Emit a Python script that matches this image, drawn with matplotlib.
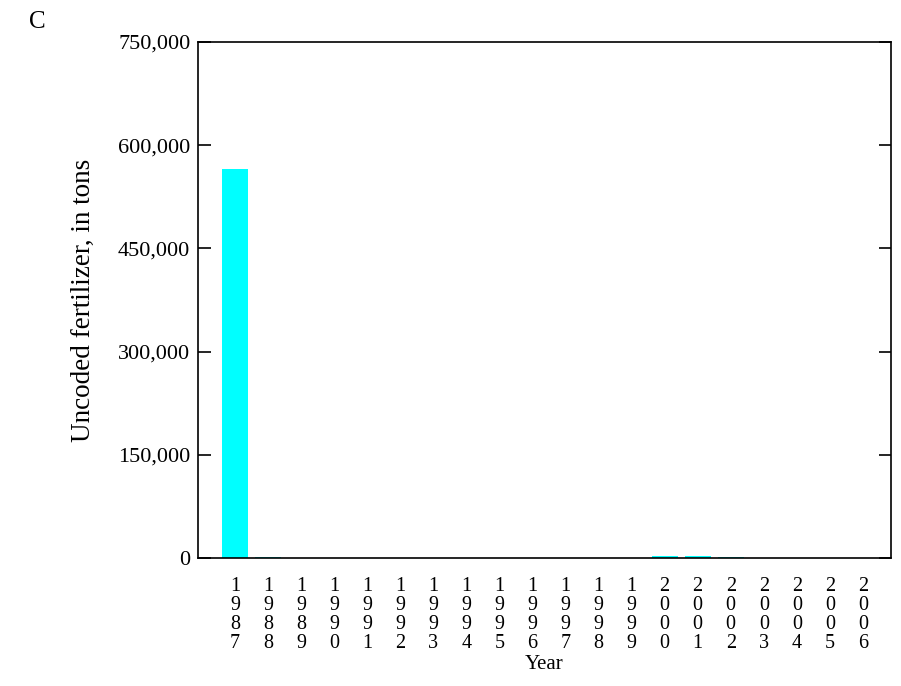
import matplotlib as mpl
mpl.use('agg')
from matplotlib import pyplot as plt
from matplotlib.ticker import FuncFormatter

years = [1987, 1988, 1989, 1990, 1991, 1992, 1993, 1994, 1995, 1996,
         1997, 1998, 1999, 2000, 2001, 2002, 2003, 2004, 2005, 2006]
tons = [565000, 1500, 0, 0, 0, 0, 0, 0, 0, 0,
        0, 0, 0, 3000, 3000, 1000, 0, 0, 0, 0]
yticks = [0, 150000, 300000, 450000, 600000, 750000]


def main():
    plt.rcParams['font.family'] = ['Liberation Serif', 'DejaVu Serif']
    fig = plt.figure(figsize=(9.01, 6.86), dpi=100)
    ax = fig.add_axes([198 / 901, 1 - 558 / 686, 693 / 901, 516 / 686])

    x = list(range(len(years)))
    ax.bar(x, tons, width=0.79, color='#00ffff')

    ax.set_xlim(-1.12, len(years) - 1 + 0.85)
    ax.set_ylim(0, 750000)
    ax.set_yticks(yticks)
    ax.yaxis.set_major_formatter(FuncFormatter(lambda v, p: '{:,}'.format(int(v))))
    ax.set_xticks(x)
    ax.set_xticklabels(['\n'.join(str(y)) for y in years], linespacing=1.0)
    ax.tick_params(axis='y', direction='in', length=9, width=1.2, right=True,
                   labelsize=16, pad=5.5)
    ax.tick_params(axis='x', length=0, labelsize=14.5, pad=14)
    for s in ax.spines.values():
        s.set_linewidth(1.2)

    ax.set_xlabel('Year', fontsize=15, labelpad=1)
    ax.set_ylabel('Uncoded fertilizer, in tons', fontsize=19.5, labelpad=16)
    fig.text(37 / 901, 1 - 22 / 686, 'C', fontsize=18, va='center', ha='center')

    fig.savefig('out.png', dpi=100)


if __name__ == '__main__':
    main()
